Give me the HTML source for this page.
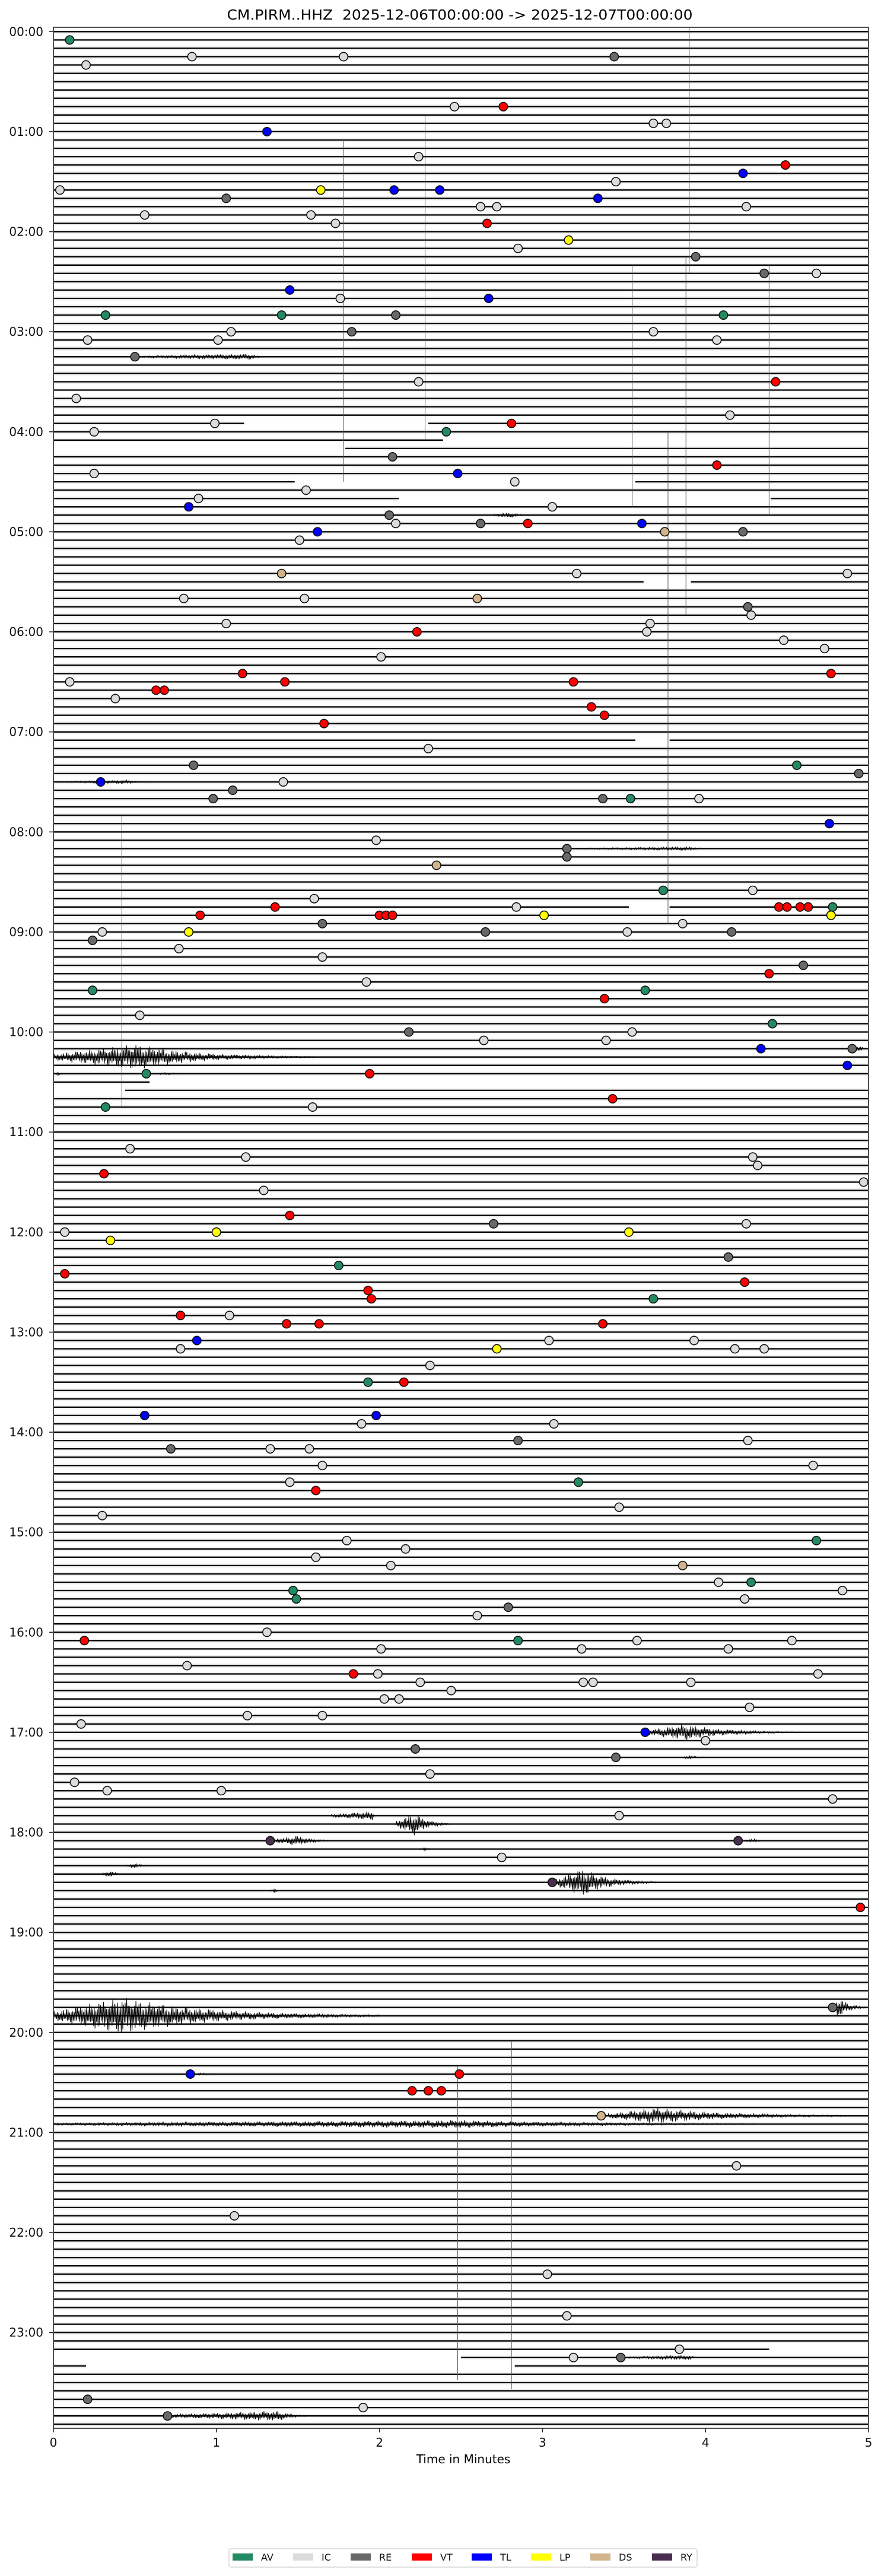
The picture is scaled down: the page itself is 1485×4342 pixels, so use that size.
<!DOCTYPE html>
<html><head><meta charset="utf-8">
<style>
html,body{margin:0;padding:0;background:#fff;}
svg{display:block;font-family:"DejaVu Sans","Liberation Sans",sans-serif;}
</style></head>
<body>
<svg id="chart" width="1485" height="4342" viewBox="0 0 1485 4342" xmlns="http://www.w3.org/2000/svg">
<rect x="0" y="0" width="1485" height="4342" fill="#fff"/>
<text x="775" y="33" font-size="23" text-anchor="middle" textLength="785" lengthAdjust="spacingAndGlyphs">CM.PIRM..HHZ &#160;2025-12-06T00:00:00 -&gt; 2025-12-07T00:00:00</text>
<g id="traces"></g>
<g id="verts"></g>
<g id="bursts"></g>
<g id="markers"></g>
<g id="axes"></g>
<rect x="90" y="46" width="1374" height="4047" fill="none" stroke="#222" stroke-width="1.6"/>
<text x="781" y="4152" font-size="20" text-anchor="middle">Time in Minutes</text>
<g id="legend">
<rect x="386" y="4296" width="789" height="31" rx="3" fill="#fff" stroke="#cccccc" stroke-width="1.2"/>
</g>
</svg>
<script>
// ---- data ----
const totalRows = 288;
const hourLabels = ["00:00","01:00","02:00","03:00","04:00","05:00","06:00","07:00","08:00","09:00","10:00","11:00","12:00","13:00","14:00","15:00","16:00","17:00","18:00","19:00","20:00","21:00","22:00","23:00"];
const xTicks = [0,1,2,3,4,5];
const typeNames = ["AV","IC","RE","VT","TL","LP","DS","RY"];
const typeColors = ["#238b62","#dcdcdc","#696969","#ff0000","#0000ff","#ffff00","#d2b48c","#4a2e4f"];

const eventRows = [
1,3,3,3,4,9,9,11,11,
12,15,16,17,18,19,19,19,19,20,20,21,21,21,22,22,23,23,
25,26,27,29,29,31,32,32,34,34,34,34,
36,36,36,37,37,37,39,42,42,44,46,47,47,
48,48,51,52,53,53,54,55,56,57,57,58,59,59,59,59,
60,60,60,61,65,65,65,68,68,68,69,70,71,71,
72,72,73,74,75,77,77,78,78,78,79,79,80,81,82,83,
86,88,88,89,90,90,91,92,92,92,92,95,
97,98,99,100,103,103,104,105,105,105,105,105,105,105,106,106,106,106,106,106,107,107,
108,108,108,108,108,109,110,111,112,113,114,115,115,116,118,119,
120,120,121,121,122,122,124,125,125,128,129,129,
134,135,135,136,137,138,139,142,143,143,
144,144,144,145,147,148,149,150,151,152,152,154,154,155,155,155,
157,157,157,158,158,158,158,160,162,162,166,166,167,167,
169,169,170,170,170,172,172,174,174,175,177,178,
181,181,182,183,184,184,186,186,187,187,188,188,189,190,
192,193,193,193,193,194,194,194,196,197,197,197,198,198,198,198,199,200,200,201,202,202,203,
204,205,206,207,209,210,211,211,212,214,
217,217,219,222,225,
237,
245,245,247,247,247,250,
256,262,
269,274,
278,279,279,284,285,286];
const eventMinutes = [
0.10,0.85,1.78,3.44,0.20,2.46,2.76,3.68,3.76,
1.31,2.24,4.49,4.23,3.45,0.04,1.64,2.09,2.37,1.06,3.34,2.62,2.72,4.25,0.56,1.58,1.73,2.66,
3.16,2.85,3.94,4.36,4.68,1.45,1.76,2.67,0.32,1.40,2.10,4.11,
1.09,1.83,3.68,0.21,1.01,4.07,0.50,2.24,4.43,0.14,4.15,0.99,2.81,
0.25,2.41,2.08,4.07,0.25,2.48,2.83,1.55,0.89,0.83,3.06,2.06,2.10,2.62,2.91,3.61,
1.62,3.75,4.23,1.51,1.40,3.21,4.87,0.80,1.54,2.60,4.26,4.28,1.06,3.66,
2.23,3.64,4.48,4.73,2.01,1.16,4.77,0.10,1.42,3.19,0.63,0.68,0.38,3.30,3.38,1.66,
2.30,0.86,4.56,4.94,0.29,1.41,1.10,0.98,3.37,3.54,3.96,4.76,
1.98,3.15,3.15,2.35,3.74,4.29,1.60,1.36,2.84,4.45,4.50,4.58,4.63,4.78,0.90,2.00,2.04,2.08,3.01,4.77,1.65,3.86,
0.30,0.83,2.65,3.52,4.16,0.24,0.77,1.65,4.60,4.39,1.92,0.24,3.63,3.38,0.53,4.41,
2.18,3.55,2.64,3.39,4.34,4.90,4.87,0.57,1.94,3.43,0.32,1.59,
0.47,1.18,4.29,4.32,0.31,4.97,1.29,1.45,2.70,4.25,
0.07,1.00,3.53,0.35,4.14,1.75,0.07,4.24,1.93,1.95,3.68,0.78,1.08,1.43,1.63,3.37,
0.88,3.04,3.93,0.78,2.72,4.18,4.36,2.31,1.93,2.15,0.56,1.98,1.89,3.07,
2.85,4.26,0.72,1.33,1.57,1.65,4.66,1.45,3.22,1.61,3.47,0.30,
1.80,4.68,2.16,1.61,2.07,3.86,4.08,4.28,1.47,4.84,1.49,4.24,2.79,2.60,
1.31,0.19,2.85,3.58,4.53,2.01,3.24,4.14,0.82,1.84,1.99,4.69,2.25,3.25,3.31,3.91,2.44,2.03,2.12,4.27,1.19,1.65,0.17,
3.63,4.00,2.22,3.45,2.31,0.13,0.33,1.03,4.78,3.47,
1.33,4.20,2.75,3.06,4.95,
4.78,
0.84,2.49,2.20,2.30,2.38,3.36,
4.19,1.11,
3.03,3.15,
3.84,3.19,3.48,0.21,1.90,0.70];
const eventTypes = [
"AV","IC","IC","RE","IC","IC","VT","IC","IC",
"TL","IC","VT","TL","IC","IC","LP","TL","TL","RE","TL","IC","IC","IC","IC","IC","IC","VT",
"LP","IC","RE","RE","IC","TL","IC","TL","AV","AV","RE","AV",
"IC","RE","IC","IC","IC","IC","RE","IC","VT","IC","IC","IC","VT",
"IC","AV","RE","VT","IC","TL","IC","IC","IC","TL","IC","RE","IC","RE","VT","TL",
"TL","DS","RE","IC","DS","IC","IC","IC","IC","DS","RE","IC","IC","IC",
"VT","IC","IC","IC","IC","VT","VT","IC","VT","VT","VT","VT","IC","VT","VT","VT",
"IC","RE","AV","RE","TL","IC","RE","RE","RE","AV","IC","TL",
"IC","RE","RE","DS","AV","IC","IC","VT","IC","VT","VT","VT","VT","AV","VT","VT","VT","VT","LP","LP","RE","IC",
"IC","LP","RE","IC","RE","RE","IC","IC","RE","VT","IC","AV","AV","VT","IC","AV",
"RE","IC","IC","IC","TL","RE","TL","AV","VT","VT","AV","IC",
"IC","IC","IC","IC","VT","IC","IC","VT","RE","IC",
"IC","LP","LP","LP","RE","AV","VT","VT","VT","VT","AV","VT","IC","VT","VT","VT",
"TL","IC","IC","IC","LP","IC","IC","IC","AV","VT","TL","TL","IC","IC",
"RE","IC","RE","IC","IC","IC","IC","IC","AV","VT","IC","IC",
"IC","AV","IC","IC","IC","DS","IC","AV","AV","IC","AV","IC","RE","IC",
"IC","VT","AV","IC","IC","IC","IC","IC","IC","VT","IC","IC","IC","IC","IC","IC","IC","IC","IC","IC","IC","IC","IC",
"TL","IC","RE","RE","IC","IC","IC","IC","IC","IC",
"RY","RY","IC","RY","VT",
"RE",
"TL","VT","VT","VT","VT","DS",
"IC","IC",
"IC","IC",
"IC","IC","RE","RE","IC","RE"];

// partial trace rows (data gaps): row, segment start minute, segment end minute
const segRows   = [47,47,49,50,54,54,56,56,66,66,85,85,105,105,126,127,278,279,280,280];
const segStarts = [0,2.30,0,1.79,0,3.57,0,4.40,0,3.91,0,3.78,0,3.78,0,0.44,0,2.50,0,2.83];
const segEnds   = [1.17,5,2.39,5,1.48,5,2.12,5,3.62,5,3.57,5,3.53,5,0.59,5,4.39,5,0.20,5];

// vertical gap connectors: minute, from row, to row
const vertMinutes = [3.90,2.28,1.78,3.55,4.39,3.88,3.77,0.42,2.48,2.81];
const vertFrom    = [-0.5,10,13,28,28,27,48,94,244,241];
const vertTo      = [29,49,54,57,58,70,107,129,281.7,282.8];

// waveform bursts: row, start, peak, end (minutes), amplitude (px)
const burstRows  = [39,58,90,98,122,123,125,125,204,207,214,215,217,217,218,220,221,222,223,237,238,245,250,251,279,286];
const burstStart = [0.50,2.70,0.00,3.15,4.90,0.00,0.00,0.60,3.63,3.85,1.70,2.10,1.35,4.22,2.25,0.45,0.30,3.08,1.33,4.78,0.00,0.84,3.40,0.00,3.48,0.70];
const burstPeak  = [1.20,2.80,0.45,3.90,4.95,0.52,0.03,0.70,3.88,3.90,1.96,2.22,1.50,4.30,2.28,0.50,0.35,3.25,1.36,4.82,0.42,0.90,3.70,2.50,3.90,1.38];
const burstEnd   = [1.35,2.95,0.70,4.10,5.00,1.60,0.10,0.95,4.60,4.10,1.98,2.44,1.75,4.40,2.35,0.65,0.45,3.70,1.40,5.00,2.00,1.20,5.00,5.00,4.00,1.60];
const burstAmp   = [5,5,3,3,5,22,3,2,14,3,8,20,9,3,3,4,6,24,4,18,32,2,14,7,4,9];

// ---- scales ----
const X0 = 90, X1 = 1464, Y0 = 53.3, DY = 14.052;
function xScale(m){ return X0 + (m/5)*(X1-X0); }
function yScale(r){ return Y0 + r*DY; }
const NS = "http://www.w3.org/2000/svg";
function mk(tag, attrs, parent){ const e=document.createElementNS(NS,tag); for(const k in attrs) e.setAttribute(k,attrs[k]); parent.appendChild(e); return e; }

// traces
const gT = document.getElementById('traces');
const partial = new Set(segRows);
let tracePath = "";
for(let r=0;r<totalRows;r++){
  if(partial.has(r)) continue;
  const y=yScale(r).toFixed(1);
  tracePath += `M${X0+1} ${y}H${X1-1}`;
}
for(let i=0;i<segRows.length;i++){
  const y=yScale(segRows[i]).toFixed(1);
  tracePath += `M${Math.max(X0+1,xScale(segStarts[i])).toFixed(1)} ${y}H${Math.min(X1-1,xScale(segEnds[i])).toFixed(1)}`;
}
const halo = mk('path',{d:tracePath,stroke:'#000','stroke-width':7,'stroke-opacity':0.05,fill:'none'},gT);


const tr = mk('path',{d:tracePath,stroke:'#000','stroke-width':2.3,fill:'none'},gT);



// verticals
const gV = document.getElementById('verts');
for(let i=0;i<vertMinutes.length;i++){
  const x=xScale(vertMinutes[i]);
  const v = mk('line',{x1:x,x2:x,y1:yScale(vertFrom[i]),y2:yScale(vertTo[i]),stroke:'#555','stroke-width':1},gV);
  
  
}

// bursts
const gB = document.getElementById('bursts');
for(let i=0;i<burstRows.length;i++){
  const y=yScale(burstRows[i]);
  const xs=xScale(burstStart[i]), xp=xScale(burstPeak[i]), xe=xScale(burstEnd[i]);
  let d=`M${xs.toFixed(1)} ${y.toFixed(1)}`;
  let k=0;
  for(let x=xs;x<=xe;x+=1.3){
    let env;
    if(x<xp) env = 0.25 + 0.75*(x-xs)/Math.max(1,(xp-xs));
    else env = Math.exp(-3*(x-xp)/Math.max(1,(xe-xp)));
    const mod = 0.35 + 0.65*Math.abs(Math.sin(k*1.37)*Math.cos(k*0.53));
    const s = (k%2===0)?1:-1;
    d += `L${x.toFixed(1)} ${(y + s*burstAmp[i]*env*mod).toFixed(1)}`;
    k++;
  }
  const p = mk('path',{d:d,stroke:'#000','stroke-width':1,fill:'none'},gB);
  
  
}

// markers
const gM = document.getElementById('markers');
for(let i=0;i<eventRows.length;i++){
  const ti = typeNames.indexOf(eventTypes[i]);
  const c = mk('circle',{cx:xScale(eventMinutes[i]).toFixed(1),cy:yScale(eventRows[i]).toFixed(1),r:7.2,fill:typeColors[ti],stroke:'#111','stroke-width':1.6},gM);
  
  
}

// axes ticks & labels
const gA = document.getElementById('axes');
for(let h=0;h<hourLabels.length;h++){
  const y=yScale(h*12);
  const t = mk('line',{x1:83,x2:90,y1:y,y2:y,stroke:'#222','stroke-width':1.5},gA);
  
  
  const l = mk('text',{x:73,y:(y+7).toFixed(1),'font-size':20,'text-anchor':'end',fill:'#111'},gA);
  l.textContent = hourLabels[h];
  
  
}
for(let i=0;i<xTicks.length;i++){
  const x=xScale(xTicks[i]);
  const t = mk('line',{x1:x,x2:x,y1:4093,y2:4100,stroke:'#222','stroke-width':1.5},gA);
  
  
  const l = mk('text',{x:x,y:4124,'font-size':20,'text-anchor':'middle',fill:'#111'},gA);
  l.textContent = String(xTicks[i]);
  
  
}

// legend
const gL = document.getElementById('legend');
const legendPatchX = [392,494,591,694,795,895,995,1099];
for(let i=0;i<typeNames.length;i++){
  const g = mk('g',{},gL);
  
  
  const r = mk('rect',{x:legendPatchX[i],y:4304,width:34,height:12,fill:typeColors[i]},g);
  
  
  const t = mk('text',{x:legendPatchX[i]+48,y:4316,'font-size':16,fill:'#111'},g);
  t.textContent = typeNames[i];
  
  
}
</script>
</body></html>
